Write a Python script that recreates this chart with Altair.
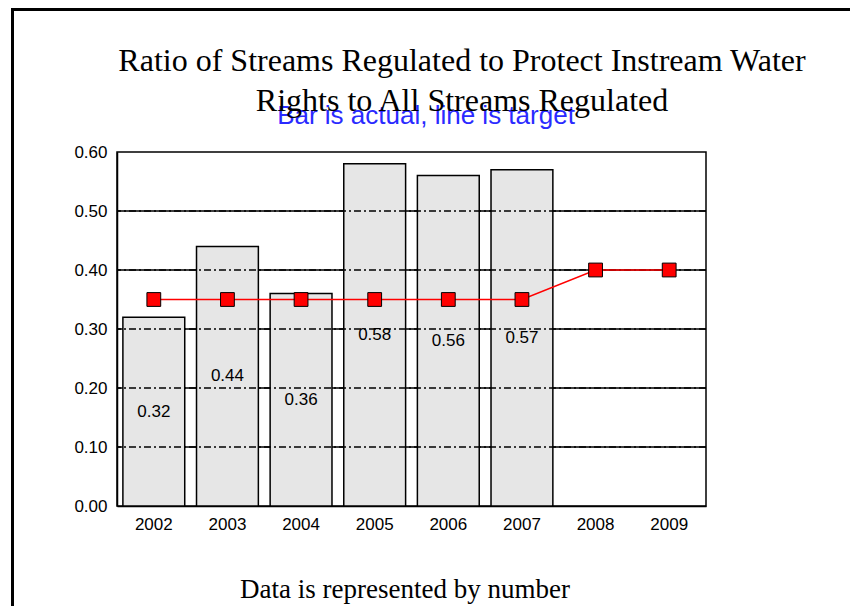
import altair as alt
import pandas as pd

years = ["2002", "2003", "2004", "2005", "2006", "2007", "2008", "2009"]
actual = [0.32, 0.44, 0.36, 0.58, 0.56, 0.57, None, None]
target = [0.35, 0.35, 0.35, 0.35, 0.35, 0.35, 0.40, 0.40]
y_ticks = [0.0, 0.1, 0.2, 0.3, 0.4, 0.5, 0.6]
inner_grid = [0.1, 0.2, 0.3, 0.4, 0.5]

title_1 = "Ratio of Streams Regulated to Protect Instream Water"
title_2 = "Rights to All Streams Regulated"
subtitle = "Bar is actual, line is target"
footer = "Data is represented by number"

df = pd.DataFrame({"year": years, "actual": actual, "target": target})
bars_df = df.dropna(subset=["actual"])

W, H = 589, 354
PAD = {"left": 109, "top": 144, "right": 144, "bottom": 100}

x_enc = alt.X("year:N", sort=years,
              scale=alt.Scale(paddingInner=0.16, paddingOuter=0.08),
              axis=alt.Axis(title=None, labelAngle=0, grid=False, ticks=False,
                            labelPadding=10, labelFont="Liberation Sans",
                            labelFontSize=17, labelColor="black",
                            domainColor="black", domainWidth=1.5))
y_scale = alt.Scale(domain=[0, 0.6], nice=False)
y_axis = alt.Axis(title=None, values=y_ticks, format=".2f", ticks=False,
                  labelPadding=10, labelFont="Liberation Sans", labelFontSize=17,
                  labelColor="black", grid=False,
                  domainColor="black", domainWidth=1.5)

grid_solid = alt.Chart(pd.DataFrame({"g": inner_grid})).mark_rule(
    color="black", strokeWidth=1.5
).encode(y=alt.Y("g:Q", scale=y_scale, axis=y_axis))

bars = alt.Chart(bars_df).mark_bar(fill="#e6e6e6", stroke="black", strokeWidth=1.5).encode(
    x=x_enc,
    y=alt.Y("actual:Q", scale=y_scale),
)

dashes = alt.Chart(pd.DataFrame({"g": inner_grid})).mark_rule(
    color="black", strokeWidth=1.3, strokeDash=[7, 3, 2, 3]
).encode(y=alt.Y("g:Q", scale=y_scale))

labels = alt.Chart(bars_df).transform_calculate(mid="datum.actual / 2").mark_text(
    font="Liberation Sans", fontSize=17, color="black", baseline="middle"
).encode(
    x=alt.X("year:N", sort=years),
    y=alt.Y("mid:Q", scale=y_scale),
    text=alt.Text("actual:Q", format=".2f"),
)

line = alt.Chart(df).mark_line(color="#ff0000", strokeWidth=1.5).encode(
    x=alt.X("year:N", sort=years),
    y=alt.Y("target:Q", scale=y_scale),
)

points = alt.Chart(df).mark_point(
    shape="square", size=190, filled=True, fill="#ff0000", stroke="black",
    strokeWidth=1, opacity=1
).encode(
    x=alt.X("year:N", sort=years),
    y=alt.Y("target:Q", scale=y_scale),
)


def txt(s, x, y, font, size, color="black"):
    return alt.Chart(pd.DataFrame({"t": [s]})).mark_text(
        font=font, fontSize=size, color=color, align="center", baseline="alphabetic"
    ).encode(text="t:N", x=alt.value(x), y=alt.value(y))


sub_t = txt(subtitle, 309, -28, "Liberation Sans", 26, "#2a2aff")
t1 = txt(title_1, 345, -81, "Liberation Serif", 32)
t2 = txt(title_2, 345, -41, "Liberation Serif", 32)
foot = txt(footer, 288, 446, "Liberation Serif", 27)

frame_l = alt.Chart(pd.DataFrame({"a": [0]})).mark_rule(color="black", strokeWidth=3).encode(
    x=alt.value(-104.5), y=alt.value(-142.5), y2=alt.value(454)
)
frame_t = alt.Chart(pd.DataFrame({"a": [0]})).mark_rule(color="black", strokeWidth=3).encode(
    x=alt.value(-106), x2=alt.value(733), y=alt.value(-142.5)
)

chart = alt.layer(
    grid_solid, bars, dashes, labels, line, points, sub_t, t1, t2, foot, frame_l, frame_t
).properties(
    width=W, height=H, padding=PAD,
    autosize=alt.AutoSizeParams(type="none"),
    background="white",
).configure_view(stroke="black", strokeWidth=1.5)

chart.save("out.html", embed_options={"renderer": "svg", "actions": False})
